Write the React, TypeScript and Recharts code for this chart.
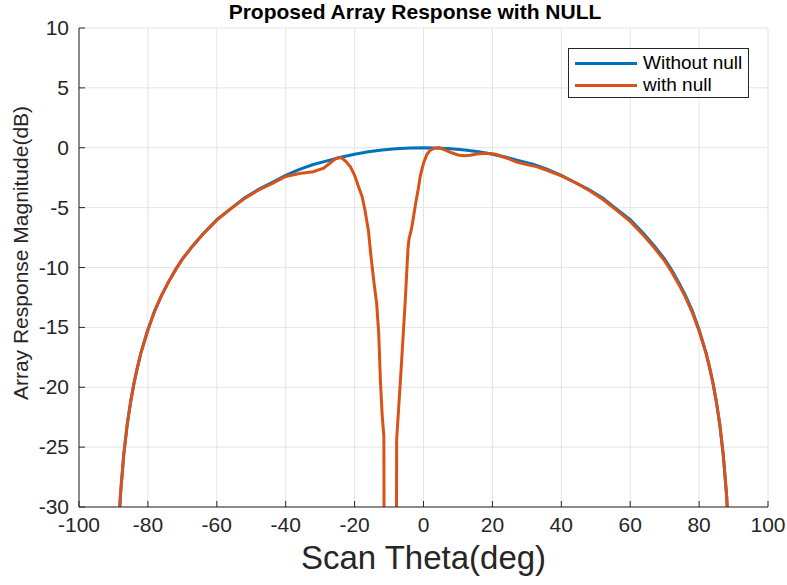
import { LineChart, Line, XAxis, YAxis, CartesianGrid } from "recharts"

// Scan angle (deg) and response (dB) of the plain array
const thetaWithout = [
  -89, -88, -87, -86, -85, -84, -83, -82, -80, -78, -76, -74, -72, -70, -67, -64,
  -60, -56, -52, -48, -44, -40, -36, -32, -28, -24, -20, -16, -12, -8, -4, 0,
  4, 8, 12, 16, 20, 24, 28, 32, 36, 40, 44, 48, 52, 56, 60, 64,
  67, 70, 72, 74, 76, 78, 80, 82, 83, 84, 85, 86, 87, 88, 89,
]
const dbWithout = [
  -35.2, -29.1, -25.6, -23.1, -21.2, -19.6, -18.3, -17.1, -15.2, -13.6, -12.3, -11.2, -10.2, -9.3, -8.2, -7.2,
  -6.0, -5.1, -4.2, -3.5, -2.9, -2.3, -1.8, -1.4, -1.1, -0.8, -0.54, -0.34, -0.19, -0.09, -0.02, 0,
  -0.02, -0.09, -0.19, -0.34, -0.54, -0.8, -1.1, -1.4, -1.8, -2.3, -2.9, -3.5, -4.2, -5.1, -6.0, -7.2,
  -8.2, -9.3, -10.2, -11.2, -12.3, -13.6, -15.2, -17.1, -18.3, -19.6, -21.2, -23.1, -25.6, -29.1, -35.2,
]

// Response with the null steered near -10 deg
const thetaNull = [
  -89, -88, -87, -86, -85, -84, -83, -82, -80, -78, -76, -74, -72, -70, -67, -64,
  -60, -56, -52, -48, -44, -40, -36, -32, -29, -27, -25.5, -24.5, -23.5, -22.5, -21.2, -20,
  -18.8, -17.8, -17, -16, -15.2, -14.4, -13.6, -13, -12.5, -12, -11.5, -11.4, -9.7, -7.9, -7.8, -6.5,
  -5.3, -4.9, -4.5, -4.2, -3.5, -2.8, -2.2, -1.5, -0.9, 0, 1, 2, 3, 4.5,
  6, 8, 10, 11.8, 13.5, 15.5, 18.5, 21, 23, 25, 27, 30, 33, 36, 40, 44,
  48, 52, 56, 60, 64, 67, 70, 72, 74, 76, 78, 80, 82, 83, 84, 85,
  86, 87, 88, 89,
]
const dbNull = [
  -35.2, -29.1, -25.6, -23.1, -21.2, -19.6, -18.3, -17.1, -15.2, -13.6, -12.3, -11.2, -10.2, -9.3, -8.2, -7.2,
  -6.05, -5.1, -4.25, -3.55, -3.0, -2.4, -2.15, -2.0, -1.7, -1.25, -0.9, -0.8, -0.9, -1.15, -1.6, -2.3,
  -3.3, -4.1, -5.2, -6.9, -9.2, -11.2, -13.0, -15.5, -19.5, -22.3, -24.1, -40, -60, -40, -24.4, -18.5,
  -12.8, -10.6, -8.4, -7.6, -6.8, -5.6, -4.5, -3.4, -2.3, -1.3, -0.55, -0.2, -0.05, 0,
  -0.15, -0.4, -0.6, -0.67, -0.62, -0.53, -0.47, -0.55, -0.75, -0.95, -1.2, -1.4, -1.6, -1.9, -2.35, -2.9,
  -3.55, -4.3, -5.2, -6.15, -7.35, -8.35, -9.45, -10.35, -11.35, -12.45, -13.75, -15.3, -17.15, -18.3, -19.6, -21.2,
  -23.1, -25.6, -29.1, -35.2,
]

const xTicks = [-100, -80, -60, -40, -20, 0, 20, 40, 60, 80, 100]
const yTicks = [-30, -25, -20, -15, -10, -5, 0, 5, 10]

const seriesNames = ["Without null", "with null"]
const BLUE = "#0072BD"
const ORANGE = "#D95319"
const AXIS = "#262626"
const FONT = '"Liberation Sans", Arial, sans-serif'

const withoutData = thetaWithout.map((theta, i) => ({ theta, db: dbWithout[i] }))
const nullData = thetaNull.map((theta, i) => ({ theta, db: dbNull[i] }))

function BottomTick(props: any) {
  const { x, y, payload } = props
  return (
    <g>
      <line x1={x} x2={x} y1={y} y2={y - 6} stroke={AXIS} />
      <text x={x} y={y + 25} textAnchor="middle" fontSize={21} fill={AXIS} fontFamily={FONT}>
        {payload.value}
      </text>
    </g>
  )
}

function TopTick(props: any) {
  const { x, y } = props
  return <line x1={x} x2={x} y1={y} y2={y + 6} stroke={AXIS} />
}

function LeftTick(props: any) {
  const { x, y, payload } = props
  return (
    <g>
      <line x1={x} x2={x + 6} y1={y} y2={y} stroke={AXIS} />
      <text x={x - 10} y={y + 7} textAnchor="end" fontSize={21} fill={AXIS} fontFamily={FONT}>
        {payload.value}
      </text>
    </g>
  )
}

function RightTick(props: any) {
  const { x, y } = props
  return <line x1={x} x2={x - 6} y1={y} y2={y} stroke={AXIS} />
}

function LegendBox() {
  const colors = [BLUE, ORANGE]
  return (
    <div
      style={{
        position: "absolute",
        left: 568,
        top: 48,
        width: 181,
        height: 50,
        border: `1px solid ${AXIS}`,
        background: "#fff",
        fontFamily: FONT,
        fontSize: 19,
        color: "#000",
        boxSizing: "border-box",
        paddingTop: 3,
      }}
    >
      {seriesNames.map((name, i) => (
        <div key={name} style={{ display: "flex", alignItems: "center", height: 22 }}>
          <div style={{ width: 62, height: 3, background: colors[i], marginLeft: 6, marginRight: 6 }} />
          <span>{name}</span>
        </div>
      ))}
    </div>
  )
}

export default function App() {
  return (
    <div style={{ position: "absolute", left: 0, top: 0, width: 787, height: 585, background: "#fff" }}>
      <div
        style={{
          position: "absolute",
          left: 0,
          width: 830,
          top: 0,
          textAlign: "center",
          fontFamily: FONT,
          fontWeight: "bold",
          fontSize: 21,
          lineHeight: "24px",
          color: "#000",
        }}
      >
        Proposed Array Response with NULL
      </div>
      <LineChart width={787} height={585} margin={{ top: 28, right: 19, bottom: 0, left: 0 }}>
        <CartesianGrid stroke="#e4e4e4" strokeWidth={1} />
        <XAxis
          dataKey="theta"
          type="number"
          domain={[-100, 100]}
          ticks={xTicks}
          allowDataOverflow
          height={78}
          stroke={AXIS}
          tickSize={0}
          tickMargin={0}
          tick={<BottomTick />}
        />
        <XAxis
          xAxisId="top"
          orientation="top"
          type="number"
          domain={[-100, 100]}
          ticks={xTicks}
          allowDataOverflow
          height={0}
          stroke={AXIS}
          tickSize={0}
          tickMargin={0}
          tick={<TopTick />}
        />
        <YAxis
          type="number"
          domain={[-30, 10]}
          ticks={yTicks}
          allowDataOverflow
          width={79}
          stroke={AXIS}
          tickSize={0}
          tickMargin={0}
          tick={<LeftTick />}
        />
        <YAxis
          yAxisId="right"
          orientation="right"
          type="number"
          domain={[-30, 10]}
          ticks={yTicks}
          allowDataOverflow
          width={0}
          stroke={AXIS}
          tickSize={0}
          tickMargin={0}
          tick={<RightTick />}
        />
        <Line
          data={withoutData}
          dataKey="db"
          name={seriesNames[0]}
          type="linear"
          stroke={BLUE}
          strokeWidth={3}
          dot={false}
          isAnimationActive={false}
        />
        <Line
          data={nullData}
          dataKey="db"
          name={seriesNames[1]}
          type="linear"
          stroke={ORANGE}
          strokeWidth={3}
          dot={false}
          isAnimationActive={false}
        />
      </LineChart>
      <LegendBox />
      <div
        style={{
          position: "absolute",
          left: 79,
          width: 689,
          top: 538,
          textAlign: "center",
          fontFamily: FONT,
          fontSize: 33,
          lineHeight: "40px",
          color: AXIS,
        }}
      >
        Scan Theta(deg)
      </div>
      <div
        style={{
          position: "absolute",
          left: 21,
          top: 253,
          transform: "translate(-50%, -50%) rotate(-90deg)",
          whiteSpace: "nowrap",
          fontFamily: FONT,
          fontSize: 21,
          lineHeight: "24px",
          color: AXIS,
        }}
      >
        Array Response Magnitude(dB)
      </div>
    </div>
  )
}
